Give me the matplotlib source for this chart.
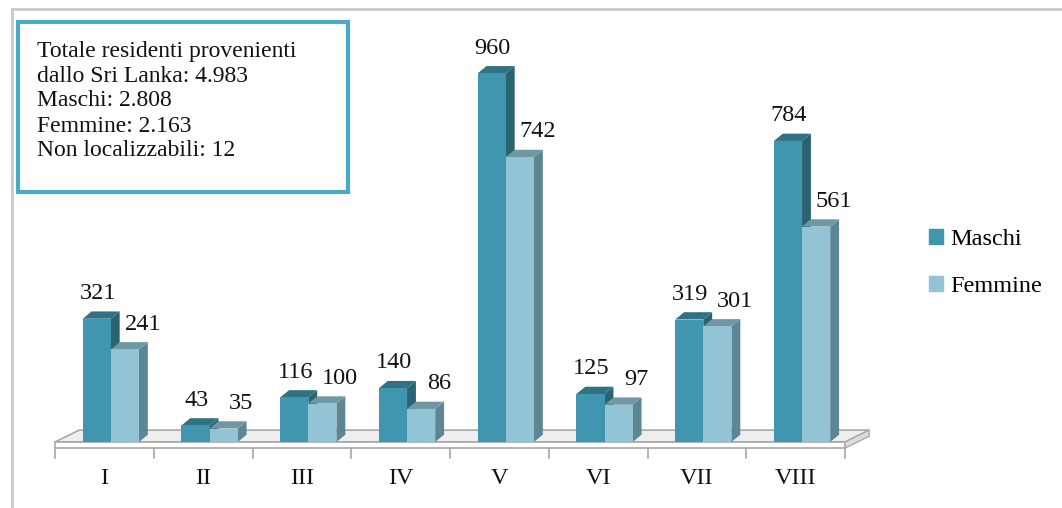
import matplotlib.pyplot as plt
from matplotlib.patches import Polygon, Rectangle, Patch
from matplotlib.lines import Line2D

regions = ['I', 'II', 'III', 'IV', 'V', 'VI', 'VII', 'VIII']
maschi = [321, 43, 116, 140, 960, 125, 319, 784]
femmine = [241, 35, 100, 86, 742, 97, 301, 561]
box_lines = ['Totale residenti provenienti',
             'dallo Sri Lanka: 4.983',
             'Maschi: 2.808',
             'Femmine: 2.163',
             'Non localizzabili: 12']

# colours: front, top, side
M_COL = ('#3f96ae', '#2f7283', '#2b6471')
F_COL = ('#93c4d5', '#6f98a5', '#5c8692')

plt.rcParams['font.family'] = ['Liberation Serif', 'DejaVu Serif']

fig = plt.figure(figsize=(10.62, 5.08), dpi=100)
ax = fig.add_axes([0, 0, 1, 1])
# pixel mapping: x=0 at 55px, one category = 98.75px ; y=0 at 442px, 0.384 px per unit
ax.set_xlim(-55 / 98.75, (1062 - 55) / 98.75)
ax.set_ylim((442 - 508) / 0.384, 442 / 0.384)
ax.axis('off')

# 3d depth of bars and floor (data units)
BDX, BDY = 0.09, 19
FDX, FDY = 0.245, 31
FTH = 16
W = 0.285


def box3d(x, h, cols, z):
    front, top, side = cols
    ax.add_patch(Polygon([(x + W, 0), (x + W + BDX, BDY), (x + W + BDX, h + BDY), (x + W, h)],
                         closed=True, fc=side, ec='none', zorder=z))
    ax.add_patch(Polygon([(x, h), (x + W, h), (x + W + BDX, h + BDY), (x + BDX, h + BDY)],
                         closed=True, fc=top, ec='none', zorder=z))
    ax.bar(x, h, width=W, align='edge', color=front, zorder=z + 0.5)


# floor
ax.add_patch(Polygon([(0, 0), (8, 0), (8 + FDX, FDY), (FDX, FDY)], closed=True,
                     fc='#eeeeee', ec='#a8a8a8', lw=1.2, zorder=1))
ax.add_patch(Polygon([(0, -FTH), (8, -FTH), (8, 0), (0, 0)], closed=True,
                     fc='white', ec='#a8a8a8', lw=1.2, zorder=1))
ax.add_patch(Polygon([(8, -FTH), (8 + FDX, FDY - FTH), (8 + FDX, FDY), (8, 0)], closed=True,
                     fc='#dcdcdc', ec='#a8a8a8', lw=1.0, zorder=1))
for k in range(9):
    ax.plot([k, k], [-FTH, -42], color='#a8a8a8', lw=1.2, zorder=1)

for i, (m, f) in enumerate(zip(maschi, femmine)):
    c = i + 0.5
    xm = c - 0.22
    xf = xm + W
    box3d(xm, m, M_COL, 3 + i)
    box3d(xf, f, F_COL, 3.2 + i)
    ax.text(xm + W / 2 + 0.01, m + 66, str(m), ha='center', va='center', fontsize=17.5, color='#111111')
    ax.text(xf + W / 2 + 0.18, f + 66, str(f), ha='center', va='center', fontsize=17.5, color='#111111')
    ax.text(c, -94, regions[i], ha='center', va='center', fontsize=17.5, color='#111111')

# outer grey frame
fig.add_artist(Line2D([12 / 1062, 1], [1 - 9 / 508, 1 - 9 / 508], color='#c8c8c8', lw=2))
fig.add_artist(Line2D([12 / 1062, 12 / 1062], [0, 1 - 9 / 508], color='#c8c8c8', lw=2))

# info box
fig.add_artist(Rectangle((18 / 1062, 1 - 192 / 508), 330 / 1062, 170 / 508,
                         transform=fig.transFigure, fc='white', ec='#4aaac5', lw=3))
for j, line in enumerate(box_lines):
    fig.text(37 / 1062, 1 - (51 + 25 * j) / 508, line, ha='left', va='center',
             fontsize=17, color='#111111')

# legend
handles = [Patch(color=M_COL[0], label='Maschi'), Patch(color=F_COL[0], label='Femmine')]
fig.legend(handles=handles, loc='center left', bbox_to_anchor=(907 / 1062, 1 - 263 / 508),
           frameon=False, fontsize=17.5, handlelength=0.6, handleheight=0.6,
           handletextpad=0.3, labelspacing=1.05)

fig.savefig('out.png', dpi=100)
